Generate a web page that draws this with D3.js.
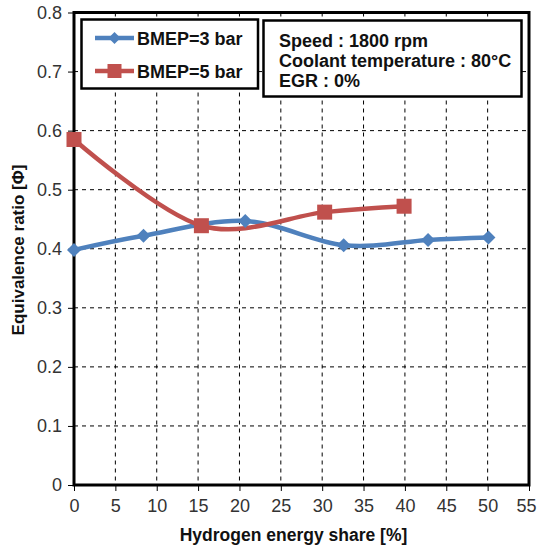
<!DOCTYPE html>
<html><head><meta charset="utf-8">
<script src="https://cdn.jsdelivr.net/npm/d3@7"></script>
<style>body{margin:0;background:#fff}svg{display:block}</style>
</head><body><svg id="c" width="538" height="547"></svg>
<script>
const xTicks = [0,5,10,15,20,25,30,35,40,45,50,55];
const yTicks = [0,0.1,0.2,0.3,0.4,0.5,0.6,0.7,0.8];
const seriesNames = ["BMEP=3 bar","BMEP=5 bar"];
const bmep3X = [0, 8.4, 20.7, 32.6, 42.8, 50.1];
const bmep3Y = [0.398, 0.422, 0.447, 0.406, 0.415, 0.419];
const bmep5X = [0, 15.4, 30.3, 39.9];
const bmep5Y = [0.585, 0.439, 0.462, 0.472];
const infoLines = ["Speed : 1800 rpm","Coolant temperature : 80°C","EGR : 0%"];
const xTitle = "Hydrogen energy share [%]";
const yTitle = "Equivalence ratio [Φ]";

const svg = d3.select("#c");
const L=74, R=529, T=12.5, B=485;
const x = d3.scaleLinear().domain([0,55]).range([L,R]);
const y = d3.scaleLinear().domain([0,0.8]).range([B,T]);
const font = "'Liberation Sans', Arial, sans-serif";

// gridlines
const g = svg.append("g");
g.selectAll("line.vx").data(xTicks.slice(1,-1)).join("line")
 .attr("x1",d=>x(d)).attr("x2",d=>x(d)).attr("y1",T).attr("y2",B)
 .attr("stroke","#000").attr("stroke-width",1).attr("stroke-dasharray","4,4");
g.selectAll("line.hy").data(yTicks.slice(1,-1)).join("line")
 .attr("y1",d=>y(d)).attr("y2",d=>y(d)).attr("x1",L).attr("x2",R)
 .attr("stroke","#000").attr("stroke-width",1).attr("stroke-dasharray","4,4");

// axes
const xa = svg.append("g").attr("transform",`translate(0,${B})`)
 .call(d3.axisBottom(x).tickValues(xTicks).tickSize(6).tickPadding(8).tickFormat(d3.format("d")));
const ya = svg.append("g").attr("transform",`translate(${L},0)`)
 .call(d3.axisLeft(y).tickValues(yTicks).tickSize(6).tickPadding(6).tickFormat(d=>d===0?"0":d3.format(".1f")(d)));
[xa,ya].forEach(a=>{
  a.select(".domain").remove();
  a.selectAll("line").attr("stroke","#000").attr("stroke-width",1);
  a.selectAll("text").attr("font-family",font).attr("font-size",18).attr("fill","#333");
});
xa.selectAll(".tick text").filter(d=>d===55).attr("dx",-3);

// plot border
svg.append("rect").attr("x",L).attr("y",T).attr("width",R-L).attr("height",B-T)
 .attr("fill","none").attr("stroke","#000").attr("stroke-width",3);

// series
const line = d3.line().x(d=>x(d[0])).y(d=>y(d[1])).curve(d3.curveCardinal.tension(0));
const s3 = bmep3X.map((v,i)=>[v,bmep3Y[i]]);
const s5 = bmep5X.map((v,i)=>[v,bmep5Y[i]]);
const blue="#4F81BD", red="#C0504D";
svg.append("path").datum(s3).attr("d",line).attr("fill","none").attr("stroke",blue).attr("stroke-width",4.5);
svg.append("path").datum(s5).attr("d",line).attr("fill","none").attr("stroke",red).attr("stroke-width",4.5);
svg.selectAll("path.d").data(s3).join("path")
 .attr("transform",d=>`translate(${x(d[0])},${y(d[1])}) rotate(45)`)
 .attr("d",d3.symbol().type(d3.symbolSquare).size(98)).attr("fill",blue);
svg.selectAll("rect.s").data(s5).join("rect")
 .attr("x",d=>x(d[0])-7.5).attr("y",d=>y(d[1])-7.5).attr("width",15).attr("height",15).attr("fill",red);

// legend
svg.append("rect").attr("x",81.5).attr("y",19.5).attr("width",176.5).attr("height",69)
 .attr("fill","#fff").attr("stroke","#000").attr("stroke-width",2.5);
const leg = [[blue,"d",38],[red,"s",71]];
leg.forEach((l,i)=>{
  svg.append("line").attr("x1",95).attr("x2",134).attr("y1",l[2]).attr("y2",l[2]).attr("stroke",l[0]).attr("stroke-width",4.5);
  if(l[1]==="d"){
    svg.append("path").attr("transform",`translate(114.5,${l[2]}) rotate(45)`).attr("d",d3.symbol().type(d3.symbolSquare).size(72)).attr("fill",l[0]);
  } else {
    svg.append("rect").attr("x",107.5).attr("y",l[2]-7).attr("width",14).attr("height",14).attr("fill",l[0]);
  }
  svg.append("text").attr("x",137).attr("y",l[2]+6.5).text(seriesNames[i])
   .attr("font-family",font).attr("font-size",18).attr("font-weight","bold").attr("fill","#111");
});

// info box
svg.append("rect").attr("x",263.5).attr("y",20.5).attr("width",258).attr("height",76)
 .attr("fill","#fff").attr("stroke","#000").attr("stroke-width",2.5);
infoLines.forEach((t,i)=>{
  svg.append("text").attr("x",279).attr("y",46.5+i*20.3).text(t)
   .attr("font-family",font).attr("font-size",18).attr("font-weight","bold").attr("fill","#111");
});

// axis titles
svg.append("text").attr("x",(L+R)/2-8).attr("y",541).attr("text-anchor","middle").text(xTitle)
 .attr("font-family",font).attr("font-size",17.5).attr("font-weight","bold").attr("fill","#111");
svg.append("text").attr("transform",`translate(24,250) rotate(-90)`).attr("text-anchor","middle").text(yTitle)
 .attr("font-family",font).attr("font-size",17).attr("font-weight","bold").attr("fill","#111");
</script></body></html>
